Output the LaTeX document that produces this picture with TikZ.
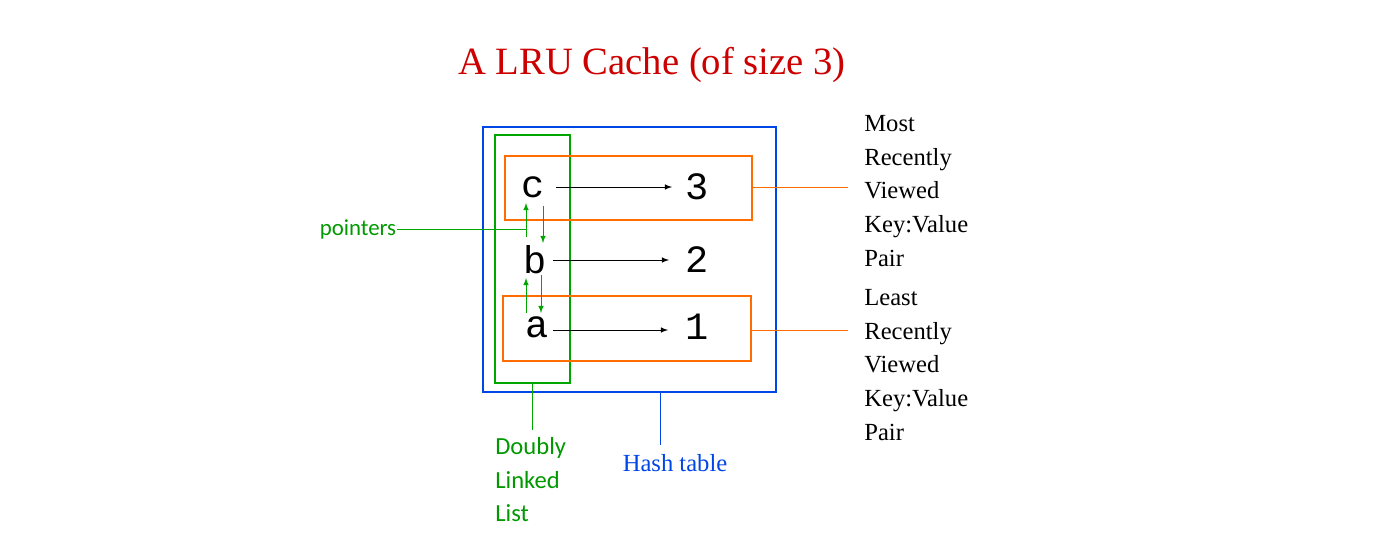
\documentclass[tikz,border=0pt]{standalone}
\usepackage{fontspec}
\setmainfont{Liberation Serif}
\newfontfamily\calib{Carlito}
\newfontfamily\monof{Liberation Mono}
\begin{document}
\begin{tikzpicture}[
    x=0.02cm, y=-0.02cm,
    box/.style={draw, line width=1.2pt},
    key/.style={font=\monof\fontsize{22}{22}\selectfont, inner sep=0pt},
    val/.style={font=\monof\fontsize{22}{22}\selectfont, inner sep=0pt},
    note/.style={font=\calib\fontsize{13}{19}\selectfont, text=green!60!black, inner sep=0pt},
    side/.style={font=\fontsize{14}{19.2}\selectfont, align=left, anchor=north west, inner sep=0pt},
    arrow/.style={thin,-latex},
    ptr/.style={green!65!black, thin, -latex}
]
\useasboundingbox (0,0) rectangle (1400,548);

% Title
\node[text=red!80!black, font=\fontsize{22}{22}\selectfont] (title) at (652,65) {A LRU Cache (of size 3)};

% Boxes
\draw[box, draw=blue!70!cyan!90!black] (483,127) rectangle (776,392);
\draw[box, draw=green!65!black] (495,135) rectangle (570,383);
\draw[box, draw=orange!85!red] (505,156) rectangle (752,220);
\draw[box, draw=orange!85!red] (503,296) rectangle (751,361);

% Keys and values
\node[key] (c) at (533,187) {c};
\node[key] (b) at (535,260) {b};
\node[key] (a) at (537,327) {a};
\node[val] (v3) at (697,187) {3};
\node[val] (v2) at (697,260) {2};
\node[val] (v1) at (697,327) {1};

\draw[arrow] (556,187) -- (672,187);
\draw[arrow] (553,260) -- (669,260);
\draw[arrow] (553,330) -- (668,330);

% Pointers
\draw[ptr] (526,237) -- (526,203);
\draw[ptr] (543,206) -- (543,243);
\draw[ptr] (526,313) -- (526,278);
\draw[ptr] (541,275) -- (541,313);

\node[note] (pointers) at (358,229) {pointers};
\draw[green!65!black, thin] (pointers.east) -- (526,229);

% Labels
\draw[orange!85!red, thin] (752,187) -- (848,187);
\draw[orange!85!red, thin] (751,330) -- (848,330);
\node[side] (most) at (864,115) {Most\\Recently\\Viewed\\Key:Value\\Pair};
\node[side] (least) at (864,289) {Least\\Recently\\Viewed\\Key:Value\\Pair};

\coordinate (dllend) at (532,430);
\draw[green!65!black, thin] (532,383) -- (dllend);
\node[note, font=\calib\fontsize{14}{19.2}\selectfont, align=left, anchor=north west] (dll) at (495,437) {Doubly\\Linked\\List};

\node[font=\fontsize{14}{14}\selectfont, text=blue!70!cyan!90!black, inner sep=0pt] (hash) at (675,463) {Hash table};
\draw[blue!70!cyan!90!black, thin] (660,392) -- (660,445);
\end{tikzpicture}
\end{document}
